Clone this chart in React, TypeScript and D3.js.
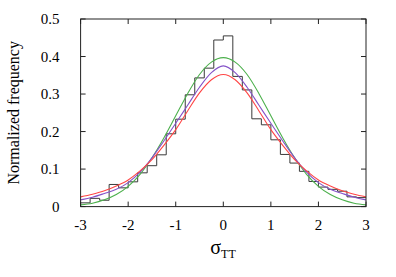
import React from "react";
import * as d3 from "d3";

// histogram bins (left edges, width 0.2) and normalized frequency
const binLeft = [
  -3.0, -2.8, -2.6, -2.4, -2.2, -2.0, -1.8, -1.6, -1.4, -1.2,
  -1.0, -0.8, -0.6, -0.4, -0.2, 0.0, 0.2, 0.4, 0.6, 0.8,
  1.0, 1.2, 1.4, 1.6, 1.8, 2.0, 2.2, 2.4, 2.6, 2.8,
];
const binWidth = 0.2;
const histValues = [
  0.01, 0.022, 0.017, 0.059, 0.05, 0.066, 0.09, 0.109, 0.138, 0.194,
  0.233, 0.298, 0.343, 0.369, 0.444, 0.455, 0.347, 0.311, 0.234, 0.218,
  0.178, 0.139, 0.116, 0.094, 0.067, 0.052, 0.046, 0.041, 0.026, 0.024,
];

// fitted curves
const curveX = [
  -3, -2.75, -2.5, -2.25, -2, -1.75, -1.5, -1.25, -1, -0.75, -0.5, -0.25, 0,
  0.25, 0.5, 0.75, 1, 1.25, 1.5, 1.75, 2, 2.25, 2.5, 2.75, 3,
];
const greenValues = [
  0.0045, 0.009, 0.018, 0.032, 0.054, 0.086, 0.13, 0.183, 0.242, 0.301, 0.352, 0.385, 0.397,
  0.385, 0.352, 0.301, 0.242, 0.183, 0.13, 0.086, 0.054, 0.032, 0.018, 0.009, 0.0045,
];
const purpleValues = [
  0.018, 0.025, 0.035, 0.046, 0.064, 0.092, 0.13, 0.175, 0.222, 0.27, 0.318, 0.357, 0.375,
  0.357, 0.318, 0.27, 0.222, 0.175, 0.13, 0.092, 0.064, 0.046, 0.035, 0.025, 0.018,
];
const redValues = [
  0.026, 0.033, 0.042, 0.055, 0.071, 0.095, 0.125, 0.163, 0.205, 0.255, 0.303, 0.338, 0.352,
  0.338, 0.303, 0.255, 0.205, 0.163, 0.125, 0.095, 0.071, 0.055, 0.042, 0.033, 0.026,
];

const xTicks = [-3, -2, -1, 0, 1, 2, 3];
const yTicks = [0, 0.1, 0.2, 0.3, 0.4, 0.5];

export default function App() {
  const width = 396;
  const height = 277;
  const left = 80.6;
  const right = 366;
  const top = 19;
  const bottom = 206.6;

  const x = d3.scaleLinear().domain([-3, 3]).range([left, right]);
  const y = d3.scaleLinear().domain([0, 0.5]).range([bottom, top]);

  // step line for histogram
  const histPts: [number, number][] = binLeft.map((b, i) => [b, histValues[i]]);
  histPts.push([binLeft[binLeft.length - 1] + binWidth, histValues[histValues.length - 1]]);
  const stepLine = d3
    .line<[number, number]>()
    .x((d) => x(d[0]))
    .y((d) => y(d[1]))
    .curve(d3.curveStepAfter);

  const smooth = d3
    .line<number>()
    .x((_, i) => x(curveX[i]))
    .y((d) => y(d))
    .curve(d3.curveMonotoneX);

  const font = "Liberation Serif, Times New Roman, serif";
  const tickLen = 5;

  return (
    <svg
      width={width}
      height={height}
      style={{ position: "absolute", left: 0, top: 0, background: "#fff", fontFamily: font }}
    >
      <defs>
        <clipPath id="plot">
          <rect x={left} y={top} width={right - left} height={bottom - top} />
        </clipPath>
      </defs>
      <g clipPath="url(#plot)" fill="none">
        <path d={stepLine(histPts) || ""} stroke="#3a3a3a" strokeWidth={1} />
        <path d={smooth(greenValues) || ""} stroke="#4cb04c" strokeWidth={1.1} />
        <path d={smooth(purpleValues) || ""} stroke="#8452c8" strokeWidth={1.1} />
        <path d={smooth(redValues) || ""} stroke="#ff4646" strokeWidth={1.1} />
      </g>
      {/* frame */}
      <rect
        x={left}
        y={top}
        width={right - left}
        height={bottom - top}
        fill="none"
        stroke="#222"
        strokeWidth={1}
      />
      {xTicks.map((t) => (
        <g key={"x" + t}>
          <line x1={x(t)} x2={x(t)} y1={bottom} y2={bottom - tickLen} stroke="#222" />
          <line x1={x(t)} x2={x(t)} y1={top} y2={top + tickLen} stroke="#222" />
          <text x={x(t)} y={230} textAnchor="middle" fontSize={15} fill="#000">
            {t}
          </text>
        </g>
      ))}
      {yTicks.map((t) => (
        <g key={"y" + t}>
          <line x1={left} x2={left + tickLen} y1={y(t)} y2={y(t)} stroke="#222" />
          <line x1={right} x2={right - tickLen} y1={y(t)} y2={y(t)} stroke="#222" />
          <text x={59.5} y={y(t) + 5} textAnchor="end" fontSize={15} fill="#000">
            {t}
          </text>
        </g>
      ))}
      <text x={223} y={254} textAnchor="middle" fontSize={20} fill="#000">
        σ<tspan fontSize={12} dy={4}>TT</tspan>
      </text>
      <text
        transform={`translate(19,${(top + bottom) / 2}) rotate(-90)`}
        textAnchor="middle"
        fontSize={16}
        fill="#000"
      >
        Normalized frequency
      </text>
    </svg>
  );
}
